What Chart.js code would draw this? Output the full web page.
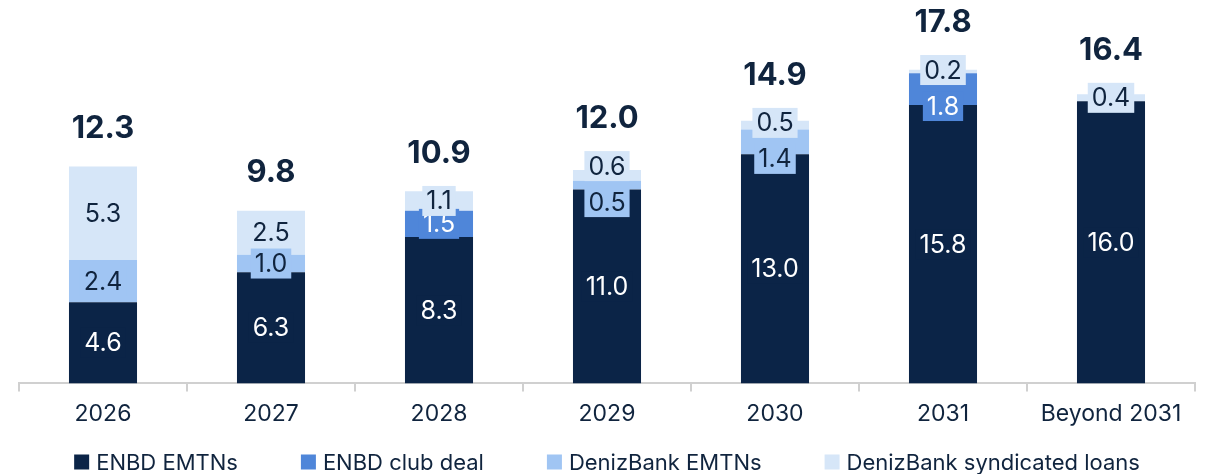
<!DOCTYPE html>
<html>
<head>
<meta charset="utf-8">
<script src="https://cdn.jsdelivr.net/npm/chart.js@4"></script>
<style>
  html, body { margin: 0; padding: 0; background: #fff; }
  #wrap { width: 1206px; height: 474px; }
</style>
</head>
<body>
<div id="wrap"><canvas id="grafico" width="1206" height="474"></canvas></div>
<script>
// ---------------------
// Dados
// ---------------------
const categorias = ['2026', '2027', '2028', '2029', '2030', '2031', 'Beyond 2031'];
const enbdEmtns = [4.6, 6.3, 8.3, 11.0, 13.0, 15.8, 16.0];
const enbdClubDeal = [0, 0, 1.5, 0, 0, 1.8, 0];
const denizEmtns = [2.4, 1.0, 0, 0.5, 1.4, 0, 0];
const denizSindicado = [5.3, 2.5, 1.1, 0.6, 0.5, 0.2, 0.4];
const totais = ['12.3', '9.8', '10.9', '12.0', '14.9', '17.8', '16.4'];

// ---------------------
// Cores / fontes
// ---------------------
const CORES = ['#0b2447', '#4f86d9', '#a0c5f3', '#d6e6f8'];
const TEXTO = ['#ffffff', '#ffffff', '#10243e', '#10243e'];
const FONTE = 'Inter, "DejaVu Sans", sans-serif';
const AZUL_ESCURO = '#10243e';

// ---------------------
// Plugin de rótulos (segmentos + totais)
// ---------------------
const rotulosPlugin = {
    id: 'rotulos',
    afterDatasetsDraw(chart) {
        const ctx = chart.ctx;
        const n = chart.data.labels.length;
        ctx.save();
        ctx.textAlign = 'center';
        ctx.textBaseline = 'middle';

        // posições dos rótulos por barra (de baixo para cima)
        const porBarra = [];
        for (let j = 0; j < n; j++) porBarra.push([]);
        chart.data.datasets.forEach((ds, i) => {
            const meta = chart.getDatasetMeta(i);
            meta.data.forEach((bar, j) => {
                const v = ds.data[j];
                if (!v) return;
                porBarra[j].push({ i, x: bar.x, y: (bar.y + bar.base) / 2, txt: v.toFixed(1), topo: bar.y });
            });
        });

        // afasta rótulos muito próximos
        porBarra.forEach(lista => {
            for (let k = 1; k < lista.length; k++) {
                const baixo = lista[k - 1], cima = lista[k];
                const d = baixo.y - cima.y;
                if (d < 20) {
                    const falta = 36 - d;
                    const desce = Math.min(falta, 17);
                    baixo.y += desce;
                    cima.y -= (falta - desce);
                }
            }
        });

        ctx.font = '400 25px ' + FONTE;
        for (let i = 0; i < chart.data.datasets.length; i++) {
            porBarra.forEach(lista => {
                lista.filter(r => r.i === i).forEach(r => {
                    const w = ctx.measureText(r.txt).width + 8;
                    const h = 30;
                    ctx.fillStyle = CORES[i];
                    ctx.fillRect(r.x - w / 2, r.y - h / 2, w, h);
                    ctx.fillStyle = TEXTO[i];
                    ctx.fillText(r.txt, r.x, r.y + 1);
                });
            });
        }

        // totais
        ctx.font = '700 31px ' + FONTE;
        ctx.fillStyle = AZUL_ESCURO;
        porBarra.forEach((lista, j) => {
            const ultimo = lista[lista.length - 1];
            const y = Math.min(ultimo.topo - 38, ultimo.y - 15 - 32);
            ctx.fillText(totais[j], ultimo.x, y);
        });
        ctx.restore();
    },
    afterDraw(chart) {
        // legenda desenhada à mão
        const ctx = chart.ctx;
        ctx.save();
        ctx.font = '400 22px ' + FONTE;
        ctx.textBaseline = 'middle';
        const caixa = 15, espaco = 7, gap = 63;
        const itens = chart.data.datasets.map((ds, i) => ({
            nome: ds.label, cor: CORES[i], w: caixa + espaco + ctx.measureText(ds.label).width
        }));
        const total = itens.reduce((a, b) => a + b.w, 0) + gap * (itens.length - 1);
        let x = 607 - total / 2;
        const y = 462;
        itens.forEach(it => {
            ctx.fillStyle = it.cor;
            ctx.fillRect(x, y - caixa / 2, caixa, caixa);
            ctx.fillStyle = AZUL_ESCURO;
            ctx.fillText(it.nome, x + caixa + espaco, y + 1);
            x += it.w + gap;
        });
        ctx.restore();
    }
};

// ---------------------
// Gráfico
// ---------------------
const series = [
    ['ENBD EMTNs', enbdEmtns],
    ['ENBD club deal', enbdClubDeal],
    ['DenizBank EMTNs', denizEmtns],
    ['DenizBank syndicated loans', denizSindicado]
];

new Chart(document.getElementById('grafico'), {
    type: 'bar',
    data: {
        labels: categorias,
        datasets: series.map(([nome, dados], i) => ({
            label: nome,
            data: dados,
            backgroundColor: CORES[i],
            borderWidth: 0,
            barPercentage: 0.81,
            categoryPercentage: 0.5
        }))
    },
    options: {
        responsive: false,
        animation: false,
        layout: { padding: { left: 19, right: 11, top: 0, bottom: 37 } },
        scales: {
            x: {
                stacked: true,
                grid: {
                    display: true,
                    drawOnChartArea: false,
                    drawTicks: true,
                    tickLength: 8,
                    color: '#d0d0d0',
                    lineWidth: 2,
                    offset: true
                },
                border: { display: true, color: '#d0d0d0', width: 2 },
                ticks: {
                    color: AZUL_ESCURO,
                    font: { family: FONTE, size: 23 },
                    padding: 9
                }
            },
            y: {
                stacked: true,
                display: false,
                min: 0,
                max: 21.75
            }
        },
        plugins: {
            legend: { display: false },
            tooltip: { enabled: false }
        }
    },
    plugins: [rotulosPlugin]
});
</script>
</body>
</html>
